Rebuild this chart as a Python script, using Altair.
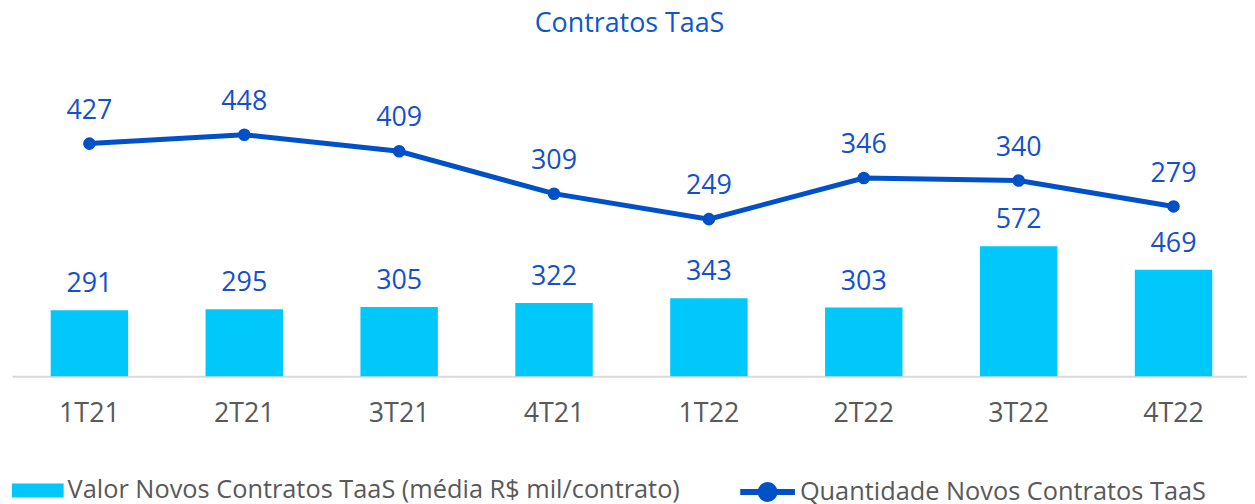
import altair as alt
import pandas as pd

categorias = ["1T21", "2T21", "3T21", "4T21", "1T22", "2T22", "3T22", "4T22"]
valor_medio = [291, 295, 305, 322, 343, 303, 572, 469]
quantidade = [427, 448, 409, 309, 249, 346, 340, 279]

serie_barra = "Valor Novos Contratos TaaS (média R$ mil/contrato)"
serie_linha = "Quantidade Novos Contratos TaaS"

df = pd.DataFrame({
    "cat": categorias,
    "valor": valor_medio,
    "qtd": quantidade,
    "s1": serie_barra,
    "s2": serie_linha,
})

FONT = "Open Sans"
BAR = "#00C8FA"
LINE = "#0050C8"
LABEL = "#1550CC"
GRAY = "#595959"

W = 1243
H = 320

x = alt.X(
    "cat:N", sort=categorias,
    scale=alt.Scale(range=[0, 1247], paddingInner=0.5, paddingOuter=0.25),
    axis=alt.Axis(title=None, labelFontSize=27, labelColor=GRAY, labelFont=FONT,
                  labelPadding=25, ticks=False, domainColor="#D9D9D9", domainWidth=2,
                  labelAngle=0, grid=False),
)

ybar = alt.Y("valor:Q", scale=alt.Scale(domain=[0, 1400], nice=False, zero=True), axis=None)
yline = alt.Y("qtd:Q", scale=alt.Scale(domain=[-121, 628], nice=False, zero=False), axis=None)

bars = alt.Chart(df).mark_bar().encode(
    x=x, y=ybar,
    fill=alt.Fill("s1:N", scale=alt.Scale(domain=[serie_barra], range=[BAR]),
                  legend=alt.Legend(title=None, orient="none", legendX=0, legendY=409,
                                    symbolType="M-1,-0.27L1,-0.27L1,0.27L-1,0.27Z",
                                    symbolSize=2704, symbolStrokeWidth=0,
                                    labelFontSize=25.5, labelColor=GRAY, labelFont=FONT,
                                    labelOffset=4, padding=0, labelLimit=800)),
)
bar_text = alt.Chart(df).mark_text(baseline="alphabetic", dy=-18, fontSize=27, font=FONT,
                                   color=LABEL).encode(x=x, y=ybar, text="valor:Q")

line = alt.Chart(df).mark_line(strokeWidth=5).encode(
    x=x, y=yline,
    stroke=alt.Stroke("s2:N", scale=alt.Scale(domain=[serie_linha], range=[LINE]),
                      legend=alt.Legend(title=None, orient="none", legendX=730, legendY=406,
                                        symbolType="M-1,0L1,0M-0.255,0A0.255,0.255,0,1,1,0.255,0A0.255,0.255,0,1,1,-0.255,0Z",
                                        symbolSize=3025, symbolStrokeWidth=6,
                                        symbolFillColor=LINE,
                                        labelFontSize=25.5, labelColor=GRAY, labelFont=FONT,
                                        labelOffset=2, padding=0, labelLimit=800)),
)
points = alt.Chart(df).mark_circle(size=160, opacity=1, color=LINE).encode(x=x, y=yline)
line_text = alt.Chart(df).mark_text(baseline="alphabetic", dy=-25, fontSize=27, font=FONT,
                                    color=LABEL).encode(x=x, y=yline, text="qtd:Q")

chart = alt.layer(bars, bar_text, line, points, line_text).resolve_scale(
    y="independent", fill="independent", stroke="independent"
).properties(
    width=W, height=H,
    title=alt.TitleParams("Contratos TaaS", fontSize=27, font=FONT, fontWeight="normal",
                          color="#0D56CF", anchor="middle", offset=20),
    autosize=alt.AutoSizeParams(type="none"),
    padding={"left": 4, "top": 49, "right": 0, "bottom": 127},
).configure_view(stroke=None)

chart.save("out.html", embed_options={"renderer": "svg", "actions": False})
